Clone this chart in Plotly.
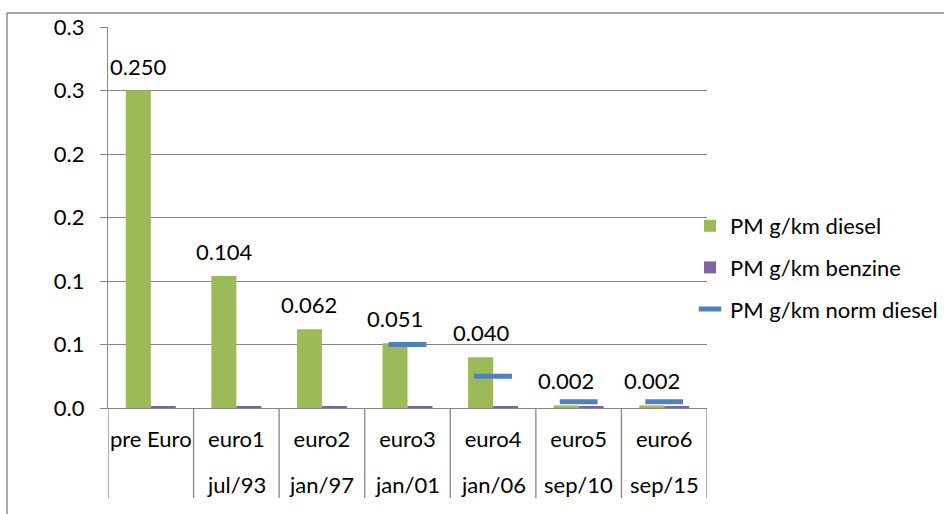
import plotly.graph_objects as go

categories = ["pre Euro", "euro1", "euro2", "euro3", "euro4", "euro5", "euro6"]
dates = ["", "jul/93", "jan/97", "jan/01", "jan/06", "sep/10", "sep/15"]
pm_diesel = [0.250, 0.104, 0.062, 0.051, 0.040, 0.002, 0.002]
pm_benzine = [0.0015, 0.0015, 0.0015, 0.0008, 0.0008, 0.0008, 0.0008]
pm_norm_diesel = [None, None, None, 0.050, 0.025, 0.005, 0.005]
y_tickvals = [0.0, 0.05, 0.10, 0.15, 0.20, 0.25, 0.30]
y_ticktext = ["0.0", "0.1", "0.1", "0.2", "0.2", "0.3", "0.3"]

GREEN = "#9BBB59"
PURPLE = "#8064A2"
BLUE = "#4F81BD"
GRID = "#868686"
FONT = "Lato"
FS = 22

W, H = 944, 514
ML, MR, MT, MB = 108, 237, 27, 106
PW = W - ML - MR
PH = H - MT - MB

fig = go.Figure()
fig.add_trace(go.Bar(x=categories, y=pm_diesel, name="PM g/km diesel",
                     marker=dict(color=GREEN, line=dict(width=0)),
                     legendgroup="a"))
fig.add_trace(go.Bar(x=categories, y=pm_benzine, name="PM g/km benzine",
                     marker=dict(color=PURPLE, line=dict(width=0)),
                     legendgroup="b"))
fig.add_trace(go.Scatter(x=categories, y=pm_norm_diesel, name="PM g/km norm diesel",
                         mode="markers",
                         marker=dict(symbol="line-ew", size=27,
                                     line=dict(color=BLUE, width=5)),
                         legendgroup="c"))

annotations = []
# data labels above diesel bars
for c, v in zip(categories, pm_diesel):
    annotations.append(dict(x=c, y=v, xref="x", yref="y", text=f"{v:.3f}",
                            showarrow=False, xshift=-12.5, yshift=9,
                            yanchor="bottom", font=dict(family=FONT, size=FS, color="black")))
# second line of category labels
for c, d in zip(categories, dates):
    if d:
        annotations.append(dict(x=c, y=-76 / PH, xref="x", yref="paper",
                                text=d, showarrow=False, yanchor="middle",
                                font=dict(family=FONT, size=FS, color="black")))

shapes = []
for i in range(len(categories) + 1):
    shapes.append(dict(type="line", xref="x", yref="paper", x0=i - 0.5, x1=i - 0.5,
                       y0=0, y1=-90 / PH, line=dict(color=GRID, width=1.3)))
# outer chart border (top and left edges visible)
bx = -101 / PW
by = 1 + 14 / PH
shapes.append(dict(type="line", xref="paper", yref="paper", x0=bx, x1=1.5, y0=by, y1=by,
                   line=dict(color="#8C8C8C", width=1.5)))
shapes.append(dict(type="line", xref="paper", yref="paper", x0=bx, x1=bx, y0=by, y1=-0.5,
                   line=dict(color="#8C8C8C", width=1.5)))

fig.update_layout(
    width=W, height=H,
    margin=dict(l=ML, r=MR, t=MT, b=MB, pad=0, autoexpand=False),
    paper_bgcolor="white", plot_bgcolor="white",
    font=dict(family=FONT, size=FS, color="black"),
    barmode="group", bargap=0.416, bargroupgap=0,
    showlegend=True,
    legend=dict(x=1 + (-17) / PW, xanchor="left", y=1 - 178 / PH, yanchor="top",
                traceorder="grouped", tracegroupgap=10, itemwidth=30,
                font=dict(family=FONT, size=FS, color="black"),
                bgcolor="rgba(0,0,0,0)", borderwidth=0),
    annotations=annotations,
    shapes=shapes,
)
fig.update_xaxes(type="category", range=[-0.5, len(categories) - 0.5],
                 showline=True, linecolor=GRID, linewidth=1.3, ticks="",
                 showgrid=False, ticklabelstandoff=11, automargin=False,
                 tickfont=dict(family=FONT, size=FS, color="black"))
fig.update_yaxes(range=[0, 0.3], tickvals=y_tickvals, ticktext=y_ticktext,
                 showgrid=True, gridcolor=GRID, gridwidth=1.3,
                 ticks="outside", ticklen=7, tickcolor=GRID, tickwidth=1.3,
                 showline=True, linecolor=GRID, linewidth=1.3, zeroline=False,
                 ticklabelstandoff=11, automargin=False,
                 tickfont=dict(family=FONT, size=FS, color="black"))

fig.write_html("out.html",
               config={"displayModeBar": False},
               post_script="document.body.style.margin='0';document.body.style.overflow='hidden';")
